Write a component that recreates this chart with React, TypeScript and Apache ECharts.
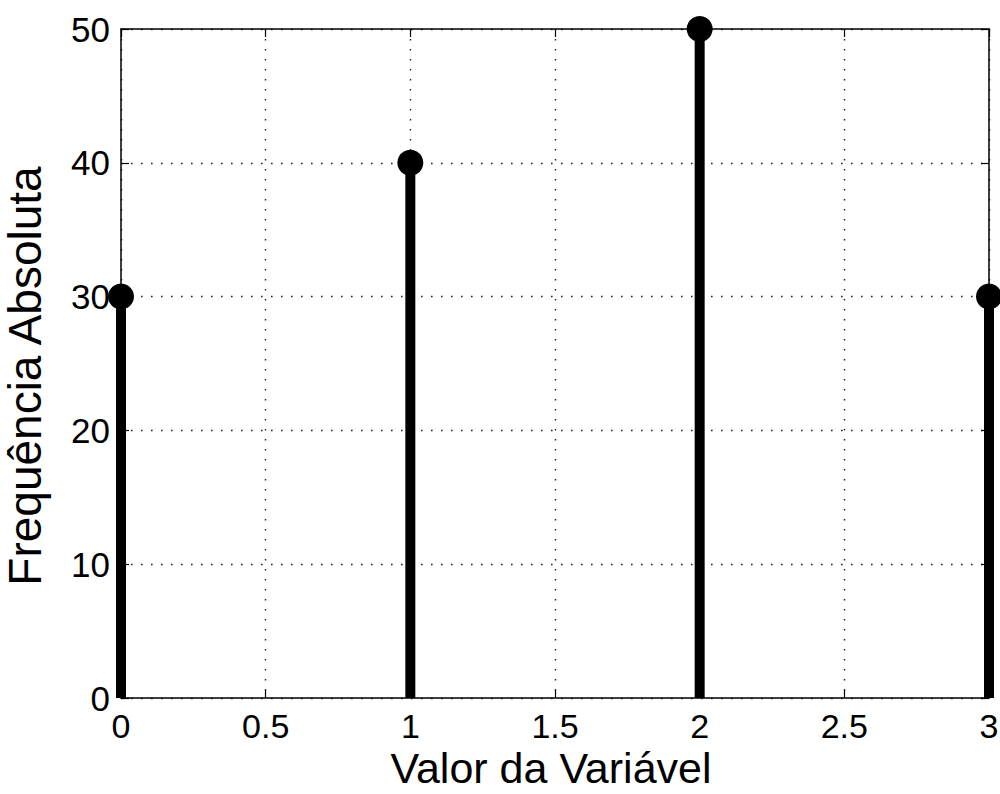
import React, { useEffect, useRef } from "react";
import * as echarts from "echarts";

const xValues = [0, 1, 2, 3];
const frequencies = [30, 40, 50, 30];
const xLabelName = "Valor da Variável";
const yLabelName = "Frequência Absoluta";

const FONT = "'Liberation Sans', Arial, Helvetica, sans-serif";

export default function App() {
  const ref = useRef<HTMLDivElement>(null);
  useEffect(() => {
    if (!ref.current) return;
    const chart = echarts.init(ref.current, null, { renderer: "svg" });
    const pts = xValues.map((x, i) => [x, frequencies[i]]);
    const dotted = { color: "#222", width: 1.4, type: [1.6, 8.4] as any };
    chart.setOption({
      animation: false,
      backgroundColor: "#fff",
      grid: {
        left: 121,
        right: 11,
        top: 29,
        bottom: 96,
        containLabel: false,
        outerBoundsMode: "none",
      },
      xAxis: [
        {
          type: "value",
          min: 0,
          max: 3,
          interval: 0.5,
          name: xLabelName,
          nameLocation: "middle",
          nameGap: 50,
          nameMoveOverlap: false,
          nameTextStyle: {
            fontFamily: FONT,
            fontSize: 43,
            lineHeight: 40,
            color: "#000",
            padding: [0, 8, 0, 0],
          },
          axisLine: { show: true, onZero: false, lineStyle: { color: "#000", width: 1.5 } },
          axisTick: { show: true, inside: true, length: 8, lineStyle: { color: "#000", width: 1.2 } },
          axisLabel: {
            fontFamily: FONT,
            fontSize: 34,
            color: "#000",
            margin: 11,
            formatter: (v: number) => String(v),
          },
          splitLine: { show: true, lineStyle: dotted },
        },
        {
          type: "value",
          position: "top",
          min: 0,
          max: 3,
          interval: 0.5,
          axisLine: { show: true, onZero: false, lineStyle: { color: "#000", width: 1.5 } },
          axisTick: { show: true, inside: true, length: 8, lineStyle: { color: "#000", width: 1.2 } },
          axisLabel: { show: false },
          splitLine: { show: false },
        },
      ],
      yAxis: [
        {
          type: "value",
          min: 0,
          max: 50,
          interval: 10,
          name: yLabelName,
          nameLocation: "middle",
          nameGap: 73,
          nameMoveOverlap: false,
          nameTextStyle: { fontFamily: FONT, fontSize: 46, color: "#000", padding: [0, 25, 0, 0] },
          axisLine: { show: true, onZero: false, lineStyle: { color: "#000", width: 1.5 } },
          axisTick: { show: true, inside: true, length: 8, lineStyle: { color: "#000", width: 1.2 } },
          axisLabel: { fontFamily: FONT, fontSize: 35, color: "#000", margin: 11 },
          splitLine: { show: true, lineStyle: dotted },
        },
        {
          type: "value",
          position: "right",
          min: 0,
          max: 50,
          interval: 10,
          axisLine: { show: true, onZero: false, lineStyle: { color: "#000", width: 1.5 } },
          axisTick: { show: true, inside: true, length: 8, lineStyle: { color: "#000", width: 1.2 } },
          axisLabel: { show: false },
          splitLine: { show: false },
        },
      ],
      series: [
        {
          type: "bar",
          data: pts,
          barWidth: 10,
          clip: true,
          itemStyle: { color: "#000" },
          silent: true,
          z: 3,
        },
        {
          type: "scatter",
          data: pts,
          symbol: "circle",
          symbolSize: 26,
          clip: false,
          itemStyle: { color: "#000", opacity: 1 },
          silent: true,
          z: 4,
        },
      ],
    });
    return () => chart.dispose();
  }, []);
  return (
    <div
      ref={ref}
      style={{ position: "absolute", left: 0, top: 0, width: 1000, height: 794 }}
    />
  );
}
